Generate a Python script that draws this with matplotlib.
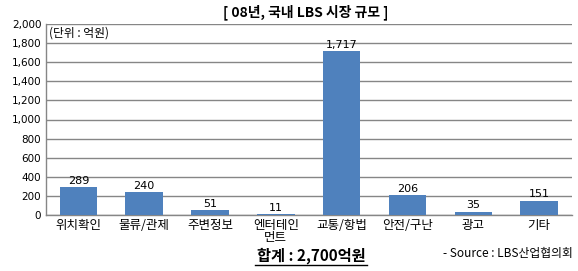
import matplotlib.pyplot as plt

plt.rcParams['font.family'] = ['Noto Sans CJK KR', 'DejaVu Sans']

categorias = ['위치확인', '물류/관제', '주변정보', '엔터테인\n먼트', '교통/항법', '안전/구난', '광고', '기타']
valores = [289, 240, 51, 11, 1717, 206, 35, 151]
etiquetas = ['289', '240', '51', '11', '1,717', '206', '35', '151']
yticks = [0, 200, 400, 600, 800, 1000, 1200, 1400, 1600, 1800, 2000]

W, H = 578, 271
fig = plt.figure(figsize=(W / 100, H / 100), dpi=100)
x0, x1, y0, y1 = 45.5, 572, 24, 215
ax = fig.add_axes([x0 / W, 1 - y1 / H, (x1 - x0) / W, (y1 - y0) / H])

pos = list(range(len(categorias)))
ax.bar(pos, valores, width=0.57, color='#4F81BD', zorder=3)
ax.set_xlim(-0.5, len(categorias) - 0.5)
ax.set_ylim(0, 2000)
ax.set_yticks(yticks)
ax.set_yticklabels([f'{v:,}' for v in yticks], fontsize=7.5, family='DejaVu Sans')
ax.set_xticks(pos)
ax.set_xticklabels(categorias, fontsize=9, linespacing=0.9)
ax.tick_params(axis='both', length=0, pad=3)
ax.grid(axis='y', color='#868686', linewidth=1, zorder=0)

for s in ['top', 'right']:
    ax.spines[s].set_visible(False)
for s in ['left', 'bottom']:
    ax.spines[s].set_color('#868686')
    ax.spines[s].set_linewidth(1)

# etiquetas de datos sobre cada barra
for p, v, t in zip(pos, valores, etiquetas):
    ax.text(p, v + 15, t, ha='center', va='bottom', fontsize=8, family='DejaVu Sans')

ax.text(0.006, 0.985, '(단위 : 억원)', transform=ax.transAxes, ha='left', va='top', fontsize=8.5)

fig.text(306 / W, 1 - 12 / H, '[ 08년, 국내 LBS 시장 규모 ]', ha='center', va='center',
         fontsize=10, fontweight='bold')
fig.text(311 / W, 1 - 256 / H, '합계 : 2,700억원', ha='center', va='center',
         fontsize=11, fontweight='bold')
fig.add_artist(plt.Line2D([255 / W, 367 / W], [1 - 265 / H, 1 - 265 / H], color='black', linewidth=1))
fig.text(573 / W, 1 - 254 / H, '- Source : LBS산업협의회', ha='right', va='center', fontsize=8.5)

fig.savefig('out.png', dpi=100)
